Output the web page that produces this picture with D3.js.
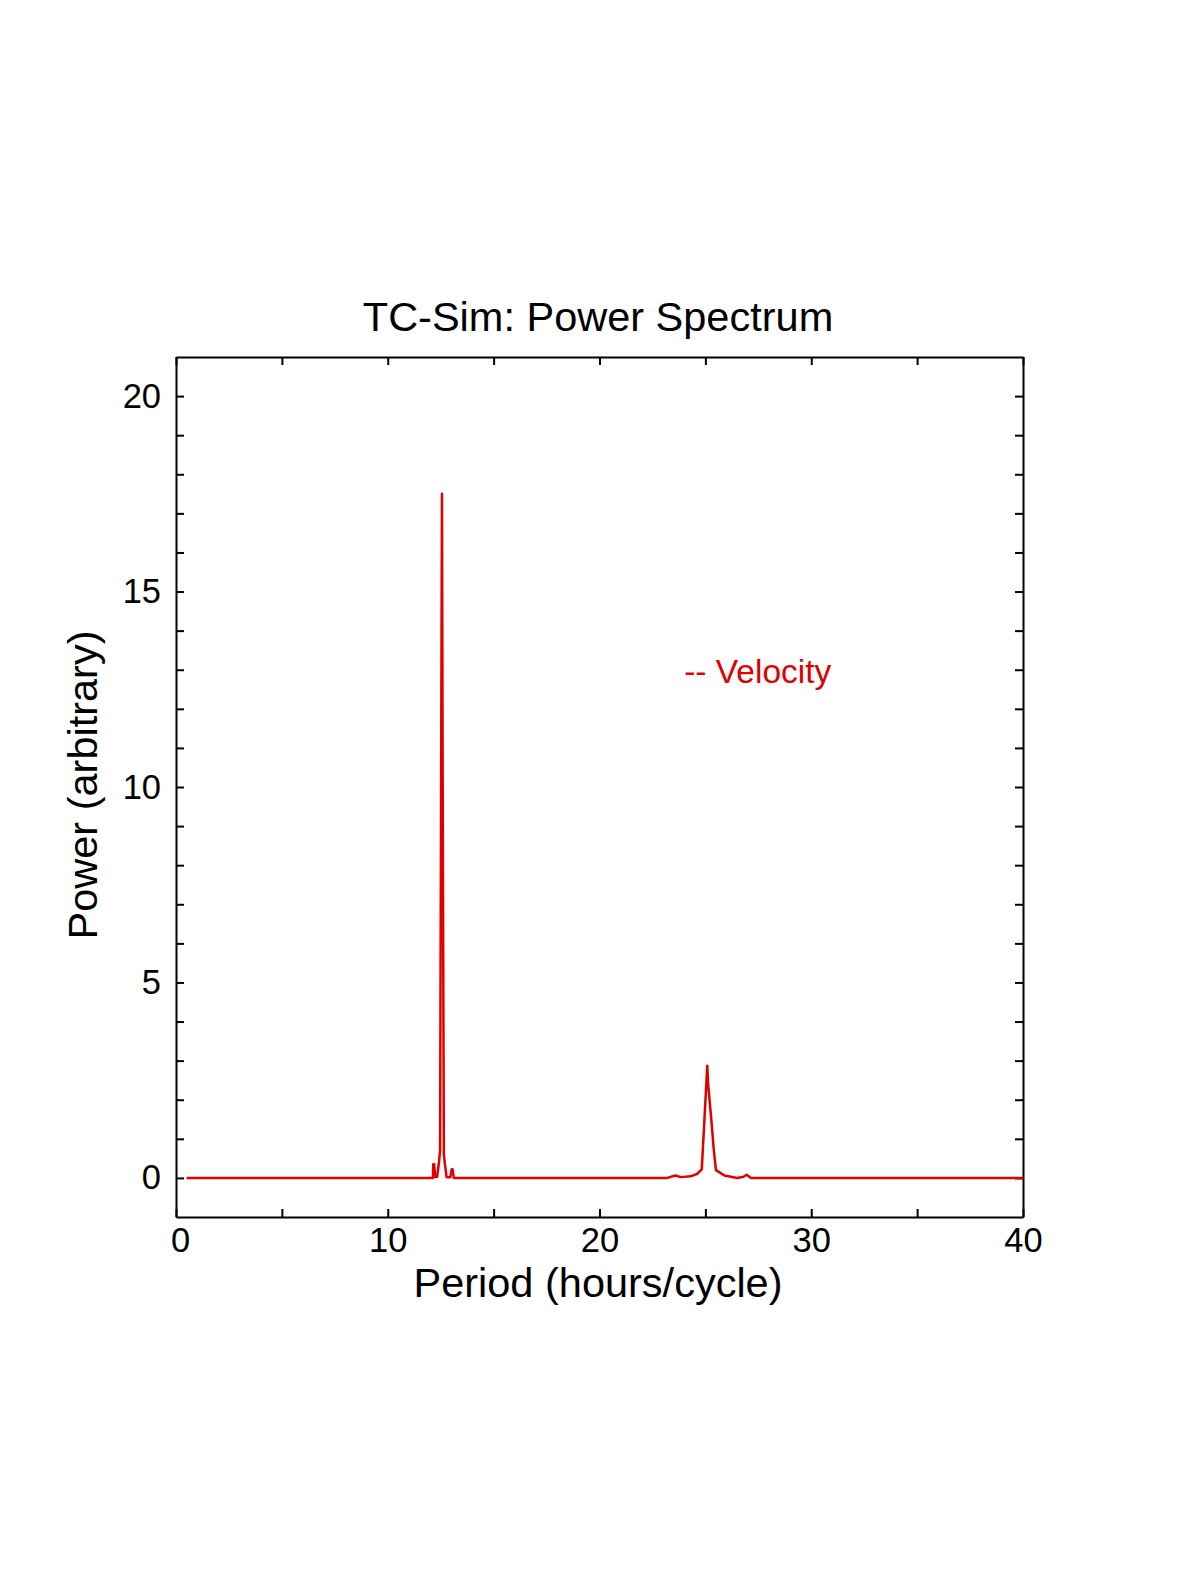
<!DOCTYPE html>
<html lang="en">
<head>
    <meta charset="UTF-8">
    <title>TC-Sim: Power Spectrum</title>
    <script src="https://d3js.org/d3.v7.min.js"></script>
    <style>
      body {
        margin: 0;
        background: #fff;
        font-family: "Liberation Sans", Arial, sans-serif;
      }
      .axis path,
      .axis line {
        fill: none;
        stroke: #000;
        stroke-width: 2;
      }
      .axis text {
        fill: #000;
        font-size: 34.5px;
        font-family: "Liberation Sans", Arial, sans-serif;
      }
      .title {
        font-size: 41.5px;
      }
    </style>
</head>
<body>
    <svg width="1200" height="1575"></svg>
    <script>
      // 1. Data: period (hours/cycle) and power.
      const period = [0.5, 12.05, 12.13, 12.15, 12.19, 12.24, 12.33, 12.42, 12.47, 12.56, 12.6, 12.65,
                      12.7, 12.78, 12.96, 13.02, 13.06, 13.12, 23.2, 23.58, 23.85, 24.3, 24.6, 24.83,
                      25.09, 25.13, 25.28, 25.4, 25.5, 25.9, 26.5, 26.8, 26.95, 27.15, 40];
      const power = [0, 0, 0, 0.35, 0.35, 0.02, 0.03, 0.4, 0.7, 17.5, 9.0, 0.6,
                     0.35, 0.02, 0.02, 0.22, 0.22, 0, 0, 0.06, 0.02, 0.04, 0.1, 0.22,
                     2.87, 2.4, 1.5, 0.7, 0.2, 0.06, 0, 0.03, 0.08, 0, 0];

      const xTicks = [0, 5, 10, 15, 20, 25, 30, 35, 40];
      const xLabels = [0, 10, 20, 30, 40];
      const yTicks = d3.range(0, 21);
      const yLabels = [0, 5, 10, 15, 20];

      // 2. Frame of the plot
      const svg = d3.select('svg');
      const plot = { left: 176, right: 1023, top: 357, bottom: 1217 };

      const x = d3.scaleLinear().domain([0, 40]).range([plot.left, plot.right]);
      const y = d3.scaleLinear().domain([-1, 21]).range([plot.bottom, plot.top]);

      // 3. Axes on all four sides, ticks pointing inward
      svg.append('g')
        .attr('class', 'axis')
        .attr('transform', `translate(0,${plot.bottom})`)
        .call(d3.axisBottom(x).tickValues(xTicks).tickSizeInner(-8).tickSizeOuter(0).tickPadding(11)
          .tickFormat(d => xLabels.includes(d) ? d : ''));

      svg.append('g')
        .attr('class', 'axis')
        .attr('transform', `translate(0,${plot.top})`)
        .call(d3.axisTop(x).tickValues(xTicks).tickSizeInner(-8).tickSizeOuter(0).tickFormat(''));

      svg.append('g')
        .attr('class', 'axis')
        .attr('transform', `translate(${plot.left},0)`)
        .call(d3.axisLeft(y).tickValues(yTicks).tickSizeInner(-8).tickSizeOuter(0).tickPadding(15)
          .tickFormat(d => yLabels.includes(d) ? d : ''));

      svg.append('g')
        .attr('class', 'axis')
        .attr('transform', `translate(${plot.right},0)`)
        .call(d3.axisRight(y).tickValues(yTicks).tickSizeInner(-8).tickSizeOuter(0).tickFormat(''));

      // the "0" label sits a little right of the corner in the original
      svg.selectAll('.axis text').filter(function (d) {
        return d === 0 && this.getAttribute('dy') === '0.71em';
      }).attr('dx', 4);

      // 4. The spectrum line
      const line = d3.line()
        .x((d, i) => x(period[i]))
        .y(d => y(d));

      svg.append('path')
        .datum(power)
        .attr('d', line)
        .attr('fill', 'none')
        .attr('stroke', '#e00000')
        .attr('stroke-width', 2.5)
        .attr('stroke-linejoin', 'round');

      // 5. Titles and legend text
      svg.append('text')
        .attr('class', 'title')
        .attr('x', 598)
        .attr('y', 331)
        .attr('text-anchor', 'middle')
        .text('TC-Sim: Power Spectrum');

      svg.append('text')
        .attr('class', 'title')
        .attr('x', 598)
        .attr('y', 1297)
        .attr('text-anchor', 'middle')
        .text('Period (hours/cycle)');

      svg.append('text')
        .attr('class', 'title')
        .attr('transform', 'translate(97,785) rotate(-90)')
        .attr('text-anchor', 'middle')
        .text('Power (arbitrary)');

      svg.append('text')
        .attr('x', x(24.0))
        .attr('y', 683)
        .attr('fill', '#e00000')
        .style('font-size', '33.5px')
        .text('-- Velocity');
    </script>
</body>
</html>
